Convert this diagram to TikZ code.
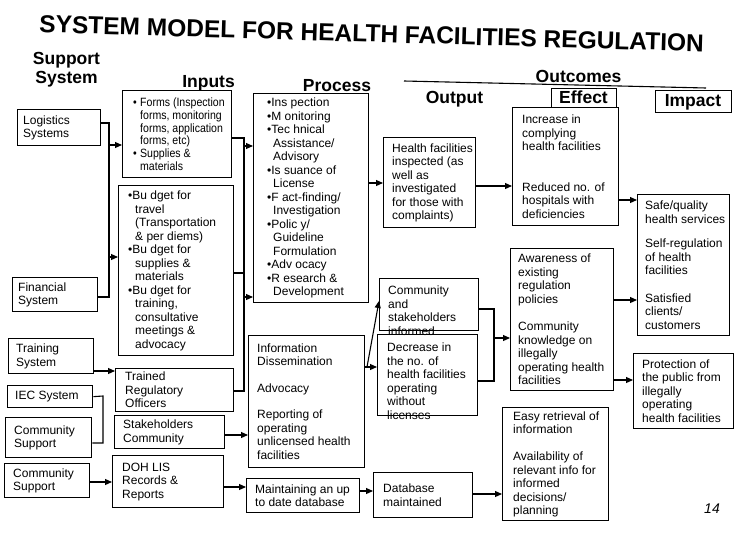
\documentclass[tikz,border=0pt]{standalone}
\usepackage{fontspec}
\setmainfont{Liberation Sans}
\newfontfamily\narrowsans{Liberation Sans}[FakeStretch=0.88]
\usetikzlibrary{arrows.meta}

\tikzset{
  frame/.style={draw, line width=1.3pt, rectangle, inner sep=0pt, anchor=north west},
  txt/.style={inner sep=0pt, align=left, anchor=west, font=\fontsize{12}{13.5}\selectfont},
  head/.style={inner sep=0pt, anchor=base, font=\bfseries\fontsize{17.5}{19}\selectfont},
  titletext/.style={inner sep=0pt, font=\bfseries\fontsize{24.5}{28}\selectfont},
  ln/.style={line width=1.1pt},
  arr/.style={line width=1.1pt, -{Triangle[length=7pt,width=6pt]}},
}

% #1 name, #2 x, #3 y (top left), #4 width, #5 height, #6 text inset, #7 text
\newcommand\regbox[7]{%
  \node[frame, minimum width=#4pt, minimum height=#5pt] (#1) at (#2,#3) {};
  \node[txt] (#1-t) at ([xshift=#6pt]#1.west) {#7};}

\begin{document}
\begin{tikzpicture}[x=1pt,y=-1pt]
\useasboundingbox (0,0) rectangle (744,535);
\fill[white] (0,0) rectangle (744,535);

% title, set along a slightly falling baseline
\node[titletext, rotate=-1.65, anchor=base west] (title) at (39,32.5)
  {SYSTEM MODEL FOR HEALTH FACILITIES REGULATION};

% column headings
\node[head, anchor=north, align=center] (support) at (66.5,52.5) {Support\\System};
\node[head] (inputs) at (208.5,87) {Inputs};
\node[head] (process-h) at (337,92) {Process};
\node[head] (output-h) at (454.5,103) {Output};
\node[head] (outcomes) at (578.5,82) {Outcomes};
\coordinate (ol) at (404,81);
\coordinate (or) at (706,88);
\draw[ln] (ol) -- (or);
\node[frame, minimum width=65pt, minimum height=19pt] (effect) at (551,88) {};
\node[head] (effect-t) at (583.5,103) {Effect};
\node[frame, minimum width=76pt, minimum height=22pt] (impact) at (655,90) {};
\node[head] (impact-t) at (693,106) {Impact};

% support systems
\regbox{logi}{17}{109}{83}{36}{6}{Logistics\\Systems}
\regbox{fin}{12}{277}{85}{34}{6}{Financial\\System}
\regbox{train}{8}{338}{85}{35}{8}{Training\\System}
\regbox{iec}{7}{385}{85}{22}{8}{IEC System}
\regbox{cs1}{5}{417}{86}{40}{9}{Community\\Support}
\regbox{cs2}{4}{463}{85}{34}{9}{Community\\Support}

% inputs
\node[frame, minimum width=109pt, minimum height=87pt] (forms) at (122,90) {};
\node[txt, font=\narrowsans\fontsize{12}{12.8}\selectfont] (forms-t)
  at ([xshift=11pt]forms.west)
  {\makebox[7pt][l]{•}Forms (Inspection\\
   \hspace*{7pt}forms, monitoring\\
   \hspace*{7pt}forms, application\\
   \hspace*{7pt}forms, etc)\\
   \makebox[7pt][l]{•}Supplies \&\\
   \hspace*{7pt}materials};
\regbox{budget}{118}{185}{115}{170}{10}{•Bu dget for\\\hspace*{7pt}travel\\\hspace*{7pt}(Transportation\\\hspace*{7pt}\& per diems)\\•Bu dget for\\\hspace*{7pt}supplies \&\\\hspace*{7pt}materials\\•Bu dget for\\\hspace*{7pt}training,\\\hspace*{7pt}consultative\\\hspace*{7pt}meetings \&\\\hspace*{7pt}advocacy}
\regbox{trained}{115}{368}{118}{43}{10}{Trained\\Regulatory\\Officers}
\regbox{stake}{114}{415}{110}{33}{9}{Stakeholders\\Community}
\regbox{doh}{112}{455}{111}{52}{10}{DOH LIS\\Records \&\\Reports}

% process
\regbox{process}{253}{93}{115}{209}{14}{•Ins pection\\•M onitoring\\•Tec hnical\\\hspace*{6pt}Assistance/\\\hspace*{6pt}Advisory\\•Is suance of\\\hspace*{6pt}License\\•F act-finding/\\\hspace*{6pt}Investigation\\•Polic y/\\\hspace*{6pt}Guideline\\\hspace*{6pt}Formulation\\•Adv ocacy\\•R esearch \&\\\hspace*{6pt}Development}
\regbox{info}{248}{335}{116}{132}{9}{Information\\Dissemination\\[13pt]Advocacy\\[13pt]Reporting of\\operating\\unlicensed health\\facilities}
\regbox{maint}{246}{478}{113}{34}{9}{Maintaining an up\\to date database}

% output
\regbox{insp}{383}{137}{92}{90}{9}{Health facilities\\inspected (as\\well as\\investigated\\for those with\\complaints)}
\node[frame, minimum width=99pt, minimum height=52pt] (comm) at (379,278) {};
\node[txt] (comm-t) at ([xshift=9pt,yshift=-6pt]comm.west)
  {Community\\and\\stakeholders\\informed};
\node[frame, minimum width=100pt, minimum height=81pt] (decr) at (377,334) {};
\node[txt] (decr-t) at ([xshift=10pt,yshift=-6pt]decr.west)
  {Decrease in\\the no. of\\health facilities\\operating\\without\\licenses};
\regbox{db}{373}{472}{99}{45}{10}{Database\\maintained}

% effect
\regbox{eff1}{512}{107}{106}{118}{10}{Increase in\\complying\\health facilities\\[27pt]Reduced no. of\\hospitals with\\deficiencies}
\regbox{aware}{510}{248}{103}{142}{8}{Awareness of\\existing\\regulation\\policies\\[14pt]Community\\knowledge on\\illegally\\operating health\\facilities}
\regbox{easy}{502}{407}{106}{113}{11}{Easy retrieval of\\information\\[13.5pt]Availability of\\relevant info for\\informed\\decisions/\\planning}

% impact
\regbox{imp1}{637}{194}{92}{141}{8}{Safe/quality\\health services\\[11pt]Self-regulation\\of health\\facilities\\[14pt]Satisfied\\clients/\\customers}
\regbox{prot}{633}{353}{100}{75}{9}{Protection of\\the public from\\illegally\\operating\\health facilities}

\node[inner sep=0pt, font=\itshape\fontsize{14}{14}\selectfont] (pagenum) at (712,509) {14};

% support systems -> inputs
\coordinate (lb1) at (109,123);
\coordinate (lb2) at (109,297);
\coordinate (lbf) at (109,145);
\coordinate (lbb) at (109,257);
\draw[ln] (logi.east |- lb1) -- (lb1) -- (lb2) -- (fin.east |- lb2);
\draw[arr] (lbf) -- (forms.west |- lbf);
\draw[arr] (lbb) -- (budget.west |- lbb);
\draw[arr] (train.east |- 0,371) -- (trained.west |- 0,371);
\coordinate (iecb) at (103,396);
\draw[ln] (iec.east) -- (iecb) |- (cs1.east |- 0,443);
\draw[arr] (cs2.east |- 0,482) -- (doh.west |- 0,482);

% inputs -> process
\coordinate (ib1) at (244,138);
\coordinate (ib2) at (244,391);
\coordinate (ib3) at (244,273);
\coordinate (ip1) at (244,146);
\coordinate (ip2) at (244,297);
\draw[ln] (forms.east |- ib1) -- (ib1) -- (ib2) -- (trained.east |- ib2);
\draw[ln] (budget.east |- ib3) -- (ib3);
\draw[arr] (ip1) -- (process.west |- ip1);
\draw[arr] (ip2) -- (process.west |- ip2);
\draw[arr] (stake.east |- 0,435) -- (info.west |- 0,435);
\draw[arr] (doh.east |- 0,487) -- (maint.west |- 0,487);

% process -> output
\draw[arr] (process.east |- 0,183) -- (insp.west |- 0,183);
\coordinate (ds) at (367,367);
\draw[arr] (info.east |- ds) -- (decr.west |- ds);
\draw[arr] (ds) -- (comm.west |- 0,301);
\draw[arr] (maint.east |- 0,491) -- (db.west |- 0,491);

% output -> effect
\draw[arr] (insp.east |- 0,186) -- (eff1.west |- 0,186);
\coordinate (ob) at (494,381);
\draw[ln] (comm.east |- 0,309) -| (ob) -- (decr.east |- ob);
\draw[arr] (494,338) -- (aware.west |- 0,338);
\draw[arr] (db.east |- 0,494) -- (easy.west |- 0,494);

% effect -> impact
\draw[arr] (eff1.east |- 0,200) -- (imp1.west |- 0,200);
\draw[arr] (aware.east |- 0,300) -- (imp1.west |- 0,300);
\draw[arr] (aware.east |- 0,380) -- (prot.west |- 0,380);
\end{tikzpicture}
\end{document}
